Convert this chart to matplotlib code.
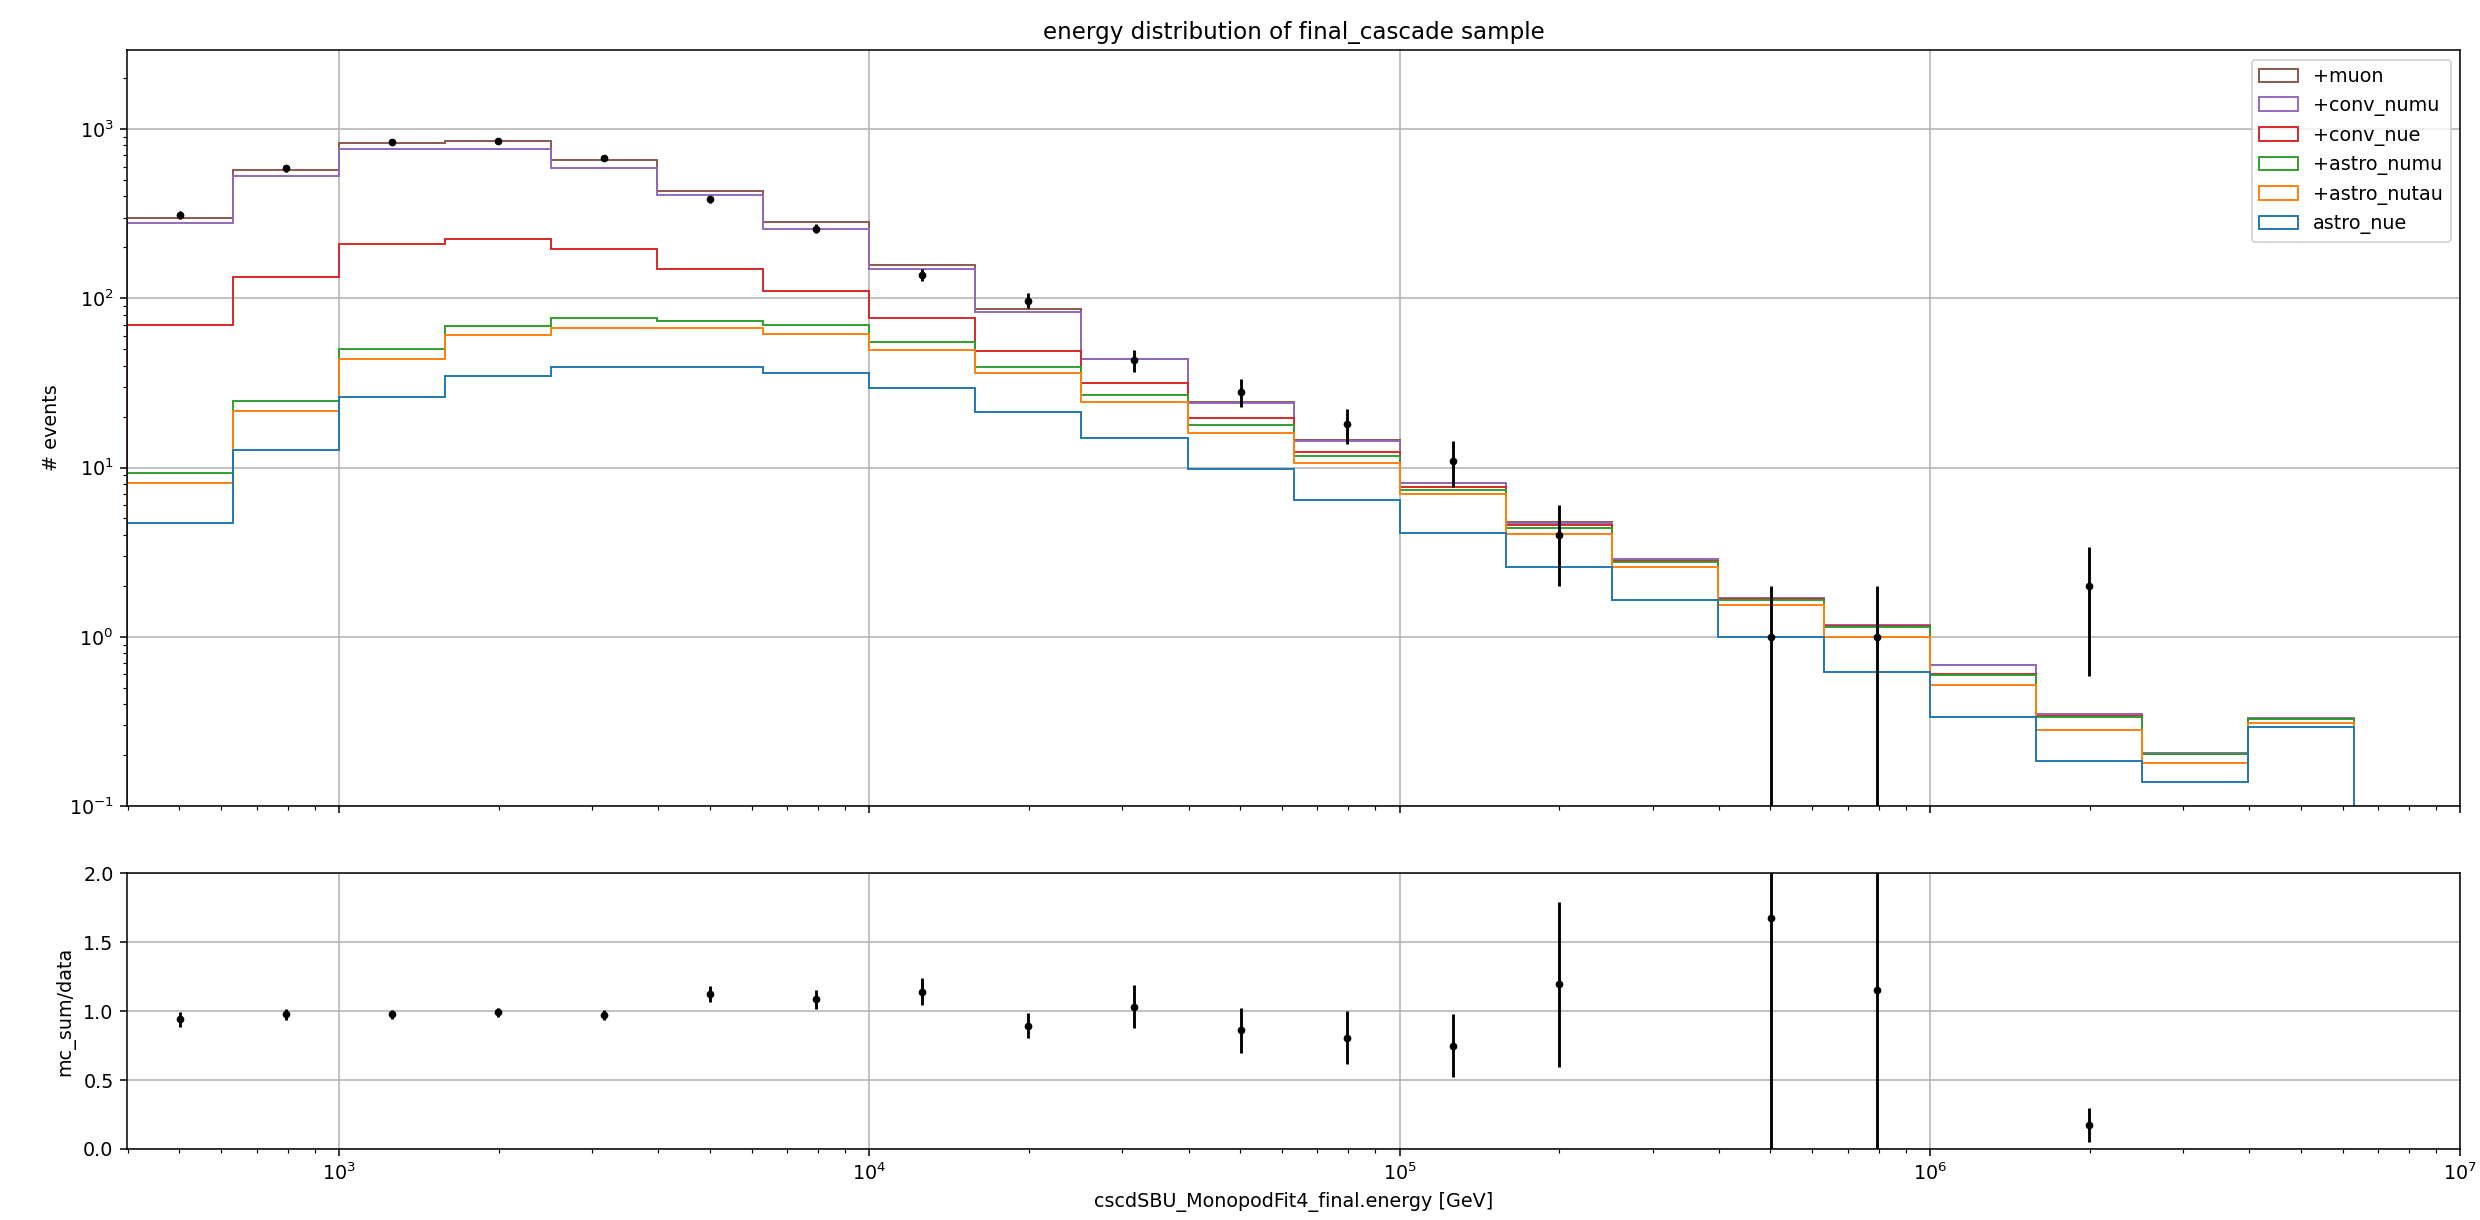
import numpy as np
import matplotlib
matplotlib.use('Agg')
import matplotlib.pyplot as plt

# bin edges (log10 of energy in GeV)
log_edges = [2.6, 2.8, 3.0, 3.2, 3.4, 3.6, 3.8, 4.0, 4.2, 4.4, 4.6,
             4.8, 5.0, 5.2, 5.4, 5.6, 5.8, 6.0, 6.2, 6.4, 6.6, 6.8]
log_centers = [2.7, 2.9, 3.1, 3.3, 3.5, 3.7, 3.9, 4.1, 4.3, 4.5, 4.7,
               4.9, 5.1, 5.3, 5.5, 5.7, 5.9, 6.1, 6.3, 6.5, 6.7]

# MC components (stacked in this order)
astro_nue = [4.7, 12.7, 26.0, 34.7, 39.5, 39.5, 36.0, 29.4, 21.4, 14.9, 9.75,
             6.4, 4.1, 2.6, 1.65, 1.0, 0.62, 0.337, 0.185, 0.139, 0.295]
astro_nutau = [3.4, 8.9, 17.7, 26.0, 26.9, 26.9, 25.5, 20.0, 14.6, 9.6, 6.35,
               4.2, 2.9, 1.45, 0.95, 0.54, 0.38, 0.182, 0.096, 0.04, 0.013]
astro_numu = [1.2, 3.2, 6.2, 7.8, 9.6, 7.4, 8.0, 6.0, 3.5, 2.3, 1.7,
              1.1, 0.4, 0.36, 0.18, 0.12, 0.15, 0.075, 0.056, 0.023, 0.018]
conv_nue = [60.2, 109.2, 158.1, 155.5, 119.0, 74.2, 41.5, 20.6, 9.5, 4.6, 1.7,
            0.7, 0.3, 0.16, 0.04, 0.02, 0.01, 0.006, 0.003, 0.0, 0.0]
conv_numu = [209.5, 395.0, 554.0, 538.0, 395.0, 259.0, 144.0, 72.0, 34.0, 12.3, 4.7,
             2.0, 0.37, 0.15, 0.05, 0.02, 0.01, 0.08, 0.008, 0.003, 0.004]
muon = [19.0, 44.0, 60.0, 91.0, 66.0, 25.0, 26.0, 9.0, 3.0, 0.3, 0.1,
        0.1, 0.03, 0.03, 0.01, 0.0, 0.0, 0.0, 0.0, 0.0, 0.0]

labels = ['astro_nue', '+astro_nutau', '+astro_numu', '+conv_nue', '+conv_numu', '+muon']
colors = ['C0', 'C1', 'C2', 'C3', 'C4', 'C5']

# data
data_counts = [312, 585, 840, 855, 670, 385, 258, 138, 97, 43, 28,
               18, 11, 4, 0, 1, 1, 0, 2, 0, 0]
data_err = [17.7, 24.2, 29.0, 29.2, 25.9, 19.6, 16.1, 11.7, 9.85, 6.56, 5.29,
            4.24, 3.32, 2.0, 0.0, 1.0, 1.0, 0.0, 1.41, 0.0, 0.0]

ratio = [0.94, 0.976, 0.976, 0.99, 0.971, 1.123, 1.085, 1.14, 0.894, 1.031, 0.862,
         0.807, 0.749, 1.193, np.nan, 1.676, 1.152, np.nan, 0.174, np.nan, np.nan]
ratio_err = [0.053, 0.040, 0.034, 0.034, 0.038, 0.057, 0.068, 0.097, 0.091, 0.157, 0.163,
             0.19, 0.226, 0.597, np.nan, 1.676, 1.152, np.nan, 0.123, np.nan, np.nan]

edges = np.power(10.0, log_edges)
centers = np.power(10.0, log_centers)

dpi = 138.24
fig = plt.figure(figsize=(2480 / dpi, 1220 / dpi), dpi=dpi)
ax1 = fig.add_axes([0.0512, 0.3393, 0.9408, 0.6197])
ax2 = fig.add_axes([0.0512, 0.0582, 0.9408, 0.2262], sharex=ax1)

comps = [astro_nue, astro_nutau, astro_numu, conv_nue, conv_numu, muon]
ax1.set_xscale('log')
ax1.hist([centers] * len(comps), bins=edges, weights=comps, histtype='step',
         stacked=True, label=labels, color=colors, log=True)

dc = np.array(data_counts, dtype=float)
de = np.array(data_err, dtype=float)
mask = dc > 0
ax1.errorbar(centers[mask], dc[mask], yerr=de[mask], fmt='k.', ecolor='k')

ax1.set_xlim(10 ** 2.6, 1e7)
ax1.set_ylim(0.1, 2930)
ax1.set_ylabel('# events')
ax1.set_title('energy distribution of final_cascade sample')
ax1.grid(True)
h, l = ax1.get_legend_handles_labels()
pairs = {lab: hh for hh, lab in zip(h, l) if lab in labels}
order = labels[::-1]
ax1.legend([pairs[k] for k in order], order, loc='upper right')
plt.setp(ax1.get_xticklabels(), visible=False)

r = np.array(ratio, dtype=float)
re = np.array(ratio_err, dtype=float)
m2 = ~np.isnan(r)
ax2.errorbar(centers[m2], r[m2], yerr=re[m2], fmt='k.', ecolor='k')
ax2.set_ylim(0, 2)
ax2.set_ylabel('mc_sum/data')
ax2.set_xlabel('cscdSBU_MonopodFit4_final.energy [GeV]')
ax2.grid(True)

fig.savefig('out.png', dpi=dpi)
